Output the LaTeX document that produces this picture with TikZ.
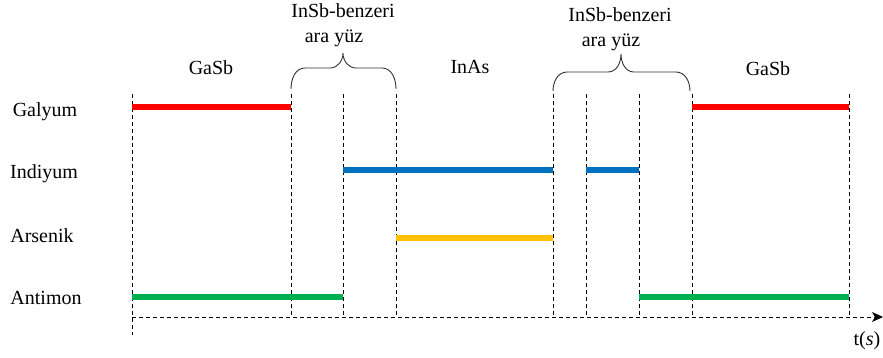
\documentclass[tikz,border=0pt]{standalone}
\usepackage{fontspec}
\setmainfont{Liberation Serif}
\usetikzlibrary{arrows.meta}
\begin{document}
\begin{tikzpicture}[x=1pt,y=-1pt,
  lbl/.style={font=\fontsize{20}{22}\selectfont, inner sep=0pt, anchor=base},
  grid/.style={black, line width=0.8pt, dash pattern=on 4pt off 3pt},
  bar/.style={line width=5.5pt},
  brc/.style={black!80, line width=0.9pt}]
\useasboundingbox (0,0) rectangle (883,358);
% time points
\foreach \n/\x in {t0/132,t1/291,t2/343,t3/396,t4/553,t5/586,t6/639,t7/692,t8/849}{
  \coordinate (\n top) at (\x,94);
  \coordinate (\n bot) at (\x,317);
}
\coordinate (t0low) at (132,335);
\coordinate (axend) at (883,317);
% vertical dashed lines
\draw[grid] (t0top) -- (t0low);
\foreach \n in {t1,t2,t3,t4,t5,t6,t7,t8}{\draw[grid] (\n top) -- (\n bot);}
% time axis
\draw[grid, -{Stealth[length=11pt,width=10pt,inset=3pt]}] (t0bot) -- (axend);
% row labels
\node[lbl] (ga) at (45,117) {Galyum};
\node[lbl] (in) at (44,179) {Indiyum};
\node[lbl] (as) at (42,242) {Arsenik};
\node[lbl] (sb) at (46,304) {Antimon};
% bars
\draw[bar, color={rgb,255:red,255;green,0;blue,0}] (132,107) -- (291,107) (692,107) -- (849,107);
\draw[bar, color={rgb,255:red,0;green,112;blue,192}] (343,170) -- (553,170) (586,170) -- (639,170);
\draw[bar, color={rgb,255:red,255;green,192;blue,0}] (396,238) -- (553,238);
\draw[bar, color={rgb,255:red,0;green,176;blue,80}] (132,297) -- (343,297) (639,297) -- (849,297);
% region labels
\node[lbl] (g1) at (211,75) {GaSb};
\node[lbl] (ia) at (470,74) {InAs};
\node[lbl] (g2) at (768,76) {GaSb};
\node[lbl] (b1a) at (343,17.5) {InSb-benzeri};
\node[lbl] (b1b) at (334,42.5) {ara yüz};
\node[lbl] (b2a) at (620,21.5) {InSb-benzeri};
\node[lbl] (b2b) at (611,46.5) {ara yüz};
\node[lbl] (ts) at (867,345) {t(\textit{s})};
% braces
\draw[brc] (291,89) to[out=90,in=180] (305,68) -- (330,68) to[out=0,in=-90] (343,53)
  to[out=-90,in=180] (356,68) -- (382,68) to[out=0,in=90] (396,89);
\draw[brc] (553,91) to[out=90,in=180] (567,72) -- (608,72) to[out=0,in=-90] (621,54)
  to[out=-90,in=180] (634,72) -- (676,72) to[out=0,in=90] (690,91);
\end{tikzpicture}
\end{document}
